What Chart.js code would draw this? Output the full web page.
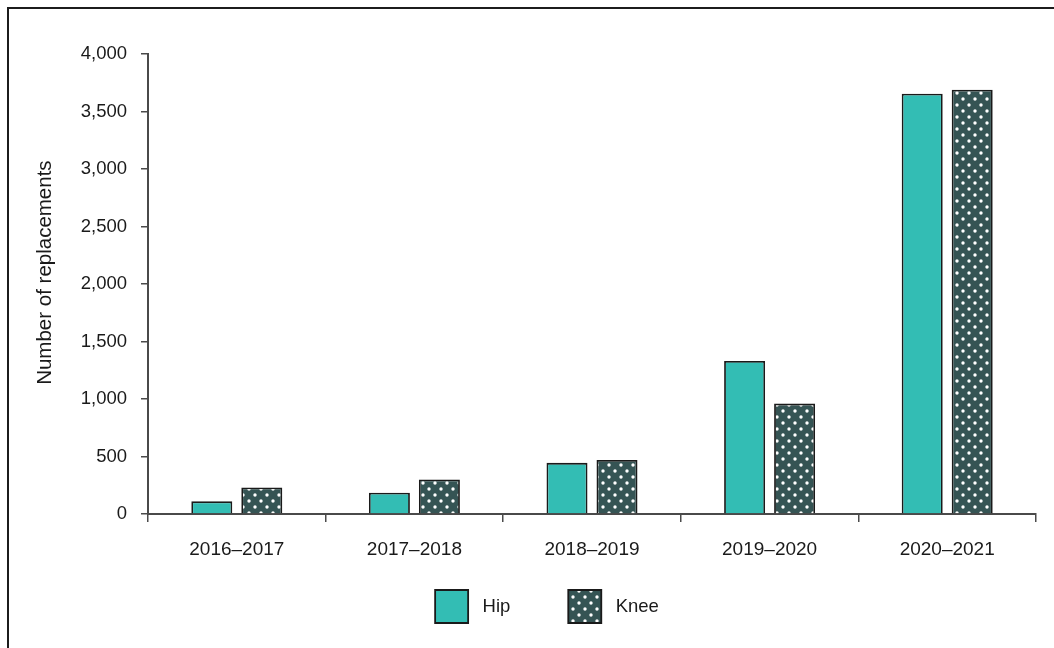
<!DOCTYPE html>
<html>
<head>
<meta charset="utf-8">
<script src="https://cdn.jsdelivr.net/npm/chart.js@4/dist/chart.umd.min.js"></script>
<style>
  html, body { margin: 0; padding: 0; background: #fff; overflow: hidden; }
  #wrap { position: relative; width: 1054px; height: 648px; }
  #frame {
    position: absolute; left: 7px; top: 7px; width: 1100px; height: 700px;
    border: 2px solid #1c1c1c; pointer-events: none;
  }
  canvas { position: absolute; left: 0; top: 0; }
</style>
</head>
<body>
<div id="wrap">
  <canvas id="chart" width="1054" height="648"></canvas>
  <div id="frame"></div>
</div>
<script>
  // financial years on the x axis
  var years = ['2016–2017', '2017–2018', '2018–2019', '2019–2020', '2020–2021'];
  // number of replacements
  var hip = [110, 185, 445, 1330, 3655];
  var knee = [230, 300, 470, 960, 3690];
  var yMax = 4000;
  var yStep = 500;

  var FONT = '"Liberation Sans", Arial, sans-serif';
  var hipColor = '#33bdb4';
  var kneeColor = '#355454';
  var edge = '#1a1a1a';
  var axisColor = '#4a4a4a';

  // dark fill with white dots on a staggered grid
  function dotPattern() {
    var c = document.createElement('canvas');
    c.width = 12;
    c.height = 12;
    var g = c.getContext('2d');
    g.fillStyle = kneeColor;
    g.fillRect(0, 0, 12, 12);
    g.fillStyle = '#ffffff';
    [[3, 3], [9, 9]].forEach(function (p) {
      g.beginPath();
      g.arc(p[0], p[1], 1.7, 0, Math.PI * 2);
      g.fill();
    });
    return g.createPattern(c, 'repeat');
  }

  // put the legend where the original has it
  var legendShift = {
    id: 'legendShift',
    afterLayout: function (chart) {
      var lg = chart.legend;
      if (!lg) return;
      var h = lg.bottom - lg.top;
      lg.left += 29;
      lg.right += 29;
      lg.top = 532;
      lg.bottom = 532 + h;
    }
  };

  var ctx = document.getElementById('chart').getContext('2d');
  var kneeFill = dotPattern();

  new Chart(ctx, {
    type: 'bar',
    data: {
      labels: years,
      datasets: [
        {
          label: 'Hip',
          data: hip,
          backgroundColor: hipColor,
          borderColor: edge,
          borderWidth: 1.8,
          categoryPercentage: 0.563,
          barPercentage: 0.82
        },
        {
          label: 'Knee',
          data: knee,
          backgroundColor: kneeFill,
          borderColor: edge,
          borderWidth: 1.8,
          categoryPercentage: 0.563,
          barPercentage: 0.82
        }
      ]
    },
    plugins: [legendShift],
    options: {
      responsive: false,
      animation: false,
      layout: {
        padding: { left: 0, right: 18, top: 54, bottom: -27 }
      },
      plugins: {
        tooltip: { enabled: false },
        legend: {
          position: 'bottom',
          labels: {
            boxWidth: 33,
            boxHeight: 33,
            padding: 58,
            color: '#1a1a1a',
            font: { family: FONT, size: 18.5 },
            generateLabels: function (chart) {
              var items = Chart.defaults.plugins.legend.labels.generateLabels(chart);
              items.forEach(function (it) { it.text = ' ' + it.text; });
              return items;
            }
          }
        }
      },
      scales: {
        x: {
          grid: {
            offset: true,
            drawOnChartArea: false,
            drawTicks: true,
            tickLength: 8,
            color: axisColor,
            lineWidth: 1.5
          },
          border: { display: true, color: axisColor, width: 2 },
          ticks: {
            color: '#1a1a1a',
            padding: 16,
            font: { family: FONT, size: 19 }
          },
          afterFit: function (s) { s.height = 60; }
        },
        y: {
          min: 0,
          max: yMax,
          grid: {
            drawOnChartArea: false,
            drawTicks: true,
            tickLength: 7,
            color: axisColor,
            lineWidth: 1.5
          },
          border: { display: true, color: axisColor, width: 2 },
          ticks: {
            stepSize: yStep,
            color: '#1a1a1a',
            padding: 14,
            font: { family: FONT, size: 18.5 },
            callback: function (v) { return v.toLocaleString('en-US'); }
          },
          title: {
            display: true,
            // leading spaces lift the title a little, as in the original
            text: '    Number of replacements',
            color: '#1a1a1a',
            padding: { top: 33, bottom: 0 },
            font: { family: FONT, size: 20.5 }
          },
          afterFit: function (s) { s.width = 148; }
        }
      }
    }
  });
</script>
</body>
</html>
